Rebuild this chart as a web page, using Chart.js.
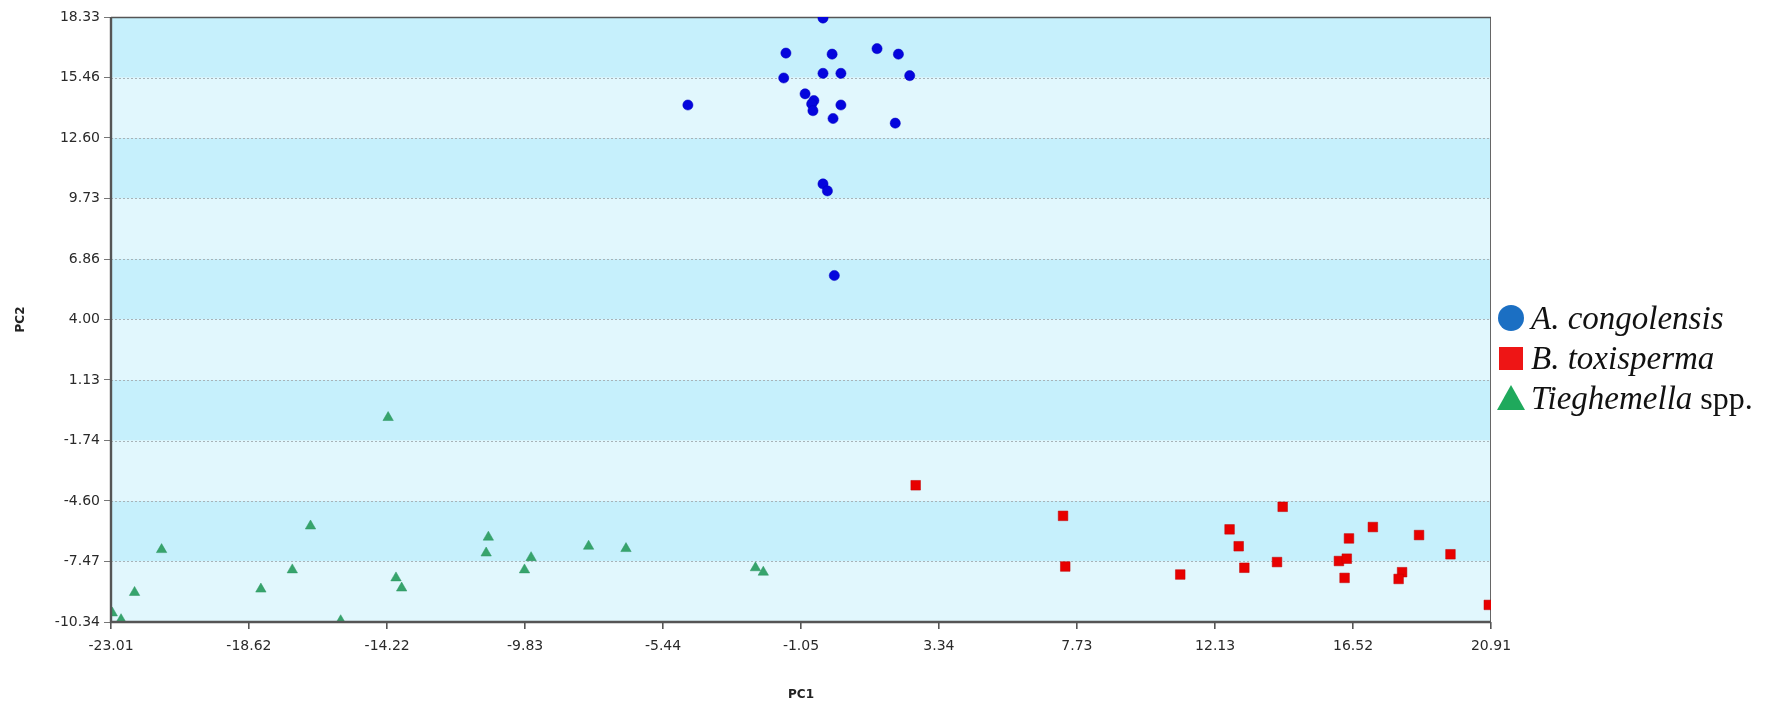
<!DOCTYPE html>
<html>
<head>
<meta charset="utf-8">
<script src="https://cdn.jsdelivr.net/npm/chart.js@4.4.1/dist/chart.umd.min.js"></script>
<style>
  html, body { margin: 0; padding: 0; background: #fff; }
  #wrap { width: 1770px; height: 709px; position: relative; }
</style>
</head>
<body>
<div id="wrap"><canvas id="pca" width="1770" height="709"></canvas></div>
<script>
// Axis tick labels (bottom -> top, left -> right)
const xTickLabels = ["-23.01", "-18.62", "-14.22", "-9.83", "-5.44", "-1.05", "3.34", "7.73", "12.13", "16.52", "20.91"];
const yTickLabels = ["-10.34", "-7.47", "-4.60", "-1.74", "1.13", "4.00", "6.86", "9.73", "12.60", "15.46", "18.33"];

const seriesNames = ["A. congolensis", "B. toxisperma", "Tieghemella spp."];

// A. congolensis
const acX = [-0.35, -1.53, -0.06, 1.37, 2.05, -1.60, -0.35, 0.22, 2.41, -0.92, -0.64, -0.71, -0.67, 0.22, -0.03, 1.95, -4.65, -0.35, -0.21, 0.01];
const acY = [18.28, 16.62, 16.57, 16.83, 16.57, 15.44, 15.66, 15.66, 15.55, 14.69, 14.37, 14.21, 13.89, 14.16, 13.52, 13.30, 14.16, 10.42, 10.09, 6.08];

// B. toxisperma
const btX = [2.60, 7.29, 7.36, 11.02, 12.59, 12.88, 13.06, 14.28, 14.10, 16.07, 16.32, 16.25, 16.39, 17.15, 18.08, 17.97, 18.62, 19.62, 20.84];
const btY = [-3.86, -5.31, -7.71, -8.09, -5.95, -6.75, -7.77, -4.88, -7.50, -7.45, -7.34, -8.25, -6.38, -5.84, -7.98, -8.30, -6.22, -7.13, -9.53];

// Tieghemella spp.
const tsX = [-22.97, -22.69, -22.26, -21.40, -18.24, -17.24, -16.66, -15.70, -14.19, -13.94, -13.76, -11.00, -11.07, -9.64, -9.85, -7.81, -6.62, -2.50, -2.25];
const tsY = [-9.91, -10.23, -8.94, -6.91, -8.78, -7.87, -5.79, -10.28, -0.65, -8.25, -8.73, -6.32, -7.07, -7.29, -7.87, -6.75, -6.86, -7.77, -7.98];

function toPoints(xs, ys) {
    return xs.map((x, i) => ({ x: x, y: ys[i] }));
}

// Striped background, dotted grid and frame
const bandsPlugin = {
    id: "bands",
    beforeDatasetsDraw(chart) {
        const { ctx, chartArea: a, scales: { y } } = chart;
        const vals = yTickLabels.map(Number);
        ctx.save();
        for (let i = 0; i < vals.length - 1; i++) {
            const bot = y.getPixelForValue(vals[i]);
            const top = y.getPixelForValue(vals[i + 1]);
            ctx.fillStyle = i % 2 === 1 ? "#c6f0fc" : "#e1f7fd";
            ctx.fillRect(a.left, top, a.right - a.left, bot - top);
        }
        ctx.strokeStyle = "#a8b3b8";
        ctx.lineWidth = 1;
        ctx.setLineDash([2, 2]);
        for (let i = 1; i < vals.length - 1; i++) {
            const py = Math.round(y.getPixelForValue(vals[i])) + 0.5;
            ctx.beginPath();
            ctx.moveTo(a.left, py);
            ctx.lineTo(a.right, py);
            ctx.stroke();
        }
        ctx.setLineDash([]);
        ctx.strokeStyle = "#666";
        ctx.strokeRect(a.left + 0.5, a.top + 0.5, a.right - a.left - 1, a.bottom - a.top);
        ctx.strokeStyle = "#555";
        ctx.lineWidth = 1.5;
        ctx.beginPath();
        ctx.moveTo(a.left, a.top + 0.5);
        ctx.lineTo(a.right, a.top + 0.5);
        ctx.stroke();
        ctx.restore();
    },
    afterDatasetsDraw(chart) {
        const { ctx, chartArea: a } = chart;
        ctx.save();
        ctx.strokeStyle = "#555";
        ctx.lineWidth = 2.4;
        ctx.beginPath();
        ctx.moveTo(a.left, a.top);
        ctx.lineTo(a.left, a.bottom);
        ctx.lineTo(a.right, a.bottom);
        ctx.stroke();
        ctx.restore();
    }
};

// Legend at the right, mixed italic / upright text
const legendPlugin = {
    id: "sideLegend",
    afterDraw(chart) {
        const ctx = chart.ctx;
        const colors = ["#1b6fc3", "#ee1515", "#1fa95c"];
        const shapes = ["circle", "rect", "triangle"];
        const cx = 1511, y0 = 318, step = 40, tx = 1531;
        ctx.save();
        seriesNames.forEach((name, i) => {
            const cy = y0 + i * step;
            ctx.fillStyle = colors[i];
            ctx.beginPath();
            if (shapes[i] === "circle") {
                ctx.arc(cx, cy, 13, 0, Math.PI * 2);
            } else if (shapes[i] === "rect") {
                ctx.rect(cx - 12, cy - 11, 24, 23);
            } else {
                ctx.moveTo(cx, cy - 13);
                ctx.lineTo(cx + 14, cy + 12);
                ctx.lineTo(cx - 14, cy + 12);
                ctx.closePath();
            }
            ctx.fill();

            let italic = name, plain = "";
            if (name.endsWith(" spp.")) {
                italic = name.slice(0, -5);
                plain = " spp.";
            }
            ctx.fillStyle = "#111";
            ctx.textBaseline = "alphabetic";
            ctx.font = "italic 33px 'Liberation Serif'";
            ctx.fillText(italic, tx, cy + 11);
            if (plain) {
                const w = ctx.measureText(italic).width;
                ctx.font = "32px 'Liberation Serif'";
                ctx.fillText(plain, tx + w, cy + 11);
            }
        });
        ctx.restore();
    }
};

const tickFont = { family: "'DejaVu Sans'", size: 14 };
const titleFont = { family: "'DejaVu Sans'", size: 12, weight: "bold" };

new Chart(document.getElementById("pca"), {
    type: "scatter",
    data: {
        datasets: [
            {
                label: seriesNames[0],
                data: toPoints(acX, acY),
                pointStyle: "circle",
                pointRadius: 5.1,
                backgroundColor: "#0505dd",
                borderColor: "#0000c0",
                borderWidth: 0.5
            },
            {
                label: seriesNames[1],
                data: toPoints(btX, btY),
                pointStyle: "rect",
                pointRadius: 6.8,
                backgroundColor: "#e80000",
                borderColor: "#c00000",
                borderWidth: 0.5
            },
            {
                label: seriesNames[2],
                data: toPoints(tsX, tsY),
                pointStyle: "triangle",
                pointRadius: 6,
                backgroundColor: "#36a46c",
                borderColor: "#2d9560",
                borderWidth: 0.5
            }
        ]
    },
    options: {
        responsive: false,
        animation: false,
        layout: { padding: { left: 0, right: 279, top: 17, bottom: 0 } },
        plugins: {
            legend: { display: false },
            tooltip: { enabled: false }
        },
        scales: {
            x: {
                type: "linear",
                min: Number(xTickLabels[0]),
                max: Number(xTickLabels[xTickLabels.length - 1]),
                afterBuildTicks: (scale) => {
                    scale.ticks = xTickLabels.map(v => ({ value: Number(v) }));
                },
                afterFit: (scale) => { scale.height = 87; },
                ticks: {
                    callback: (v, i) => xTickLabels[i],
                    font: tickFont,
                    color: "#2a2a2a",
                    padding: 9,
                    maxRotation: 0,
                    autoSkip: false
                },
                grid: { drawOnChartArea: false, drawTicks: true, tickLength: 7, color: "#555", lineWidth: 1.6 },
                border: { display: false },
                title: {
                    display: true,
                    text: "PC1",
                    font: titleFont,
                    color: "#222",
                    padding: { top: 4, bottom: 7 }
                }
            },
            y: {
                type: "linear",
                min: Number(yTickLabels[0]),
                max: Number(yTickLabels[yTickLabels.length - 1]),
                afterBuildTicks: (scale) => {
                    scale.ticks = yTickLabels.map(v => ({ value: Number(v) }));
                },
                afterFit: (scale) => { scale.width = 111; },
                ticks: {
                    callback: (v, i) => yTickLabels[i],
                    font: tickFont,
                    color: "#2a2a2a",
                    padding: 4,
                    autoSkip: false
                },
                grid: { drawOnChartArea: false, drawTicks: true, tickLength: 7, color: "#777", lineWidth: 1 },
                border: { display: false },
                title: {
                    display: true,
                    text: "PC2",
                    font: titleFont,
                    color: "#222",
                    padding: { top: 14, bottom: 4 }
                }
            }
        }
    },
    plugins: [bandsPlugin, legendPlugin]
});
</script>
</body>
</html>
